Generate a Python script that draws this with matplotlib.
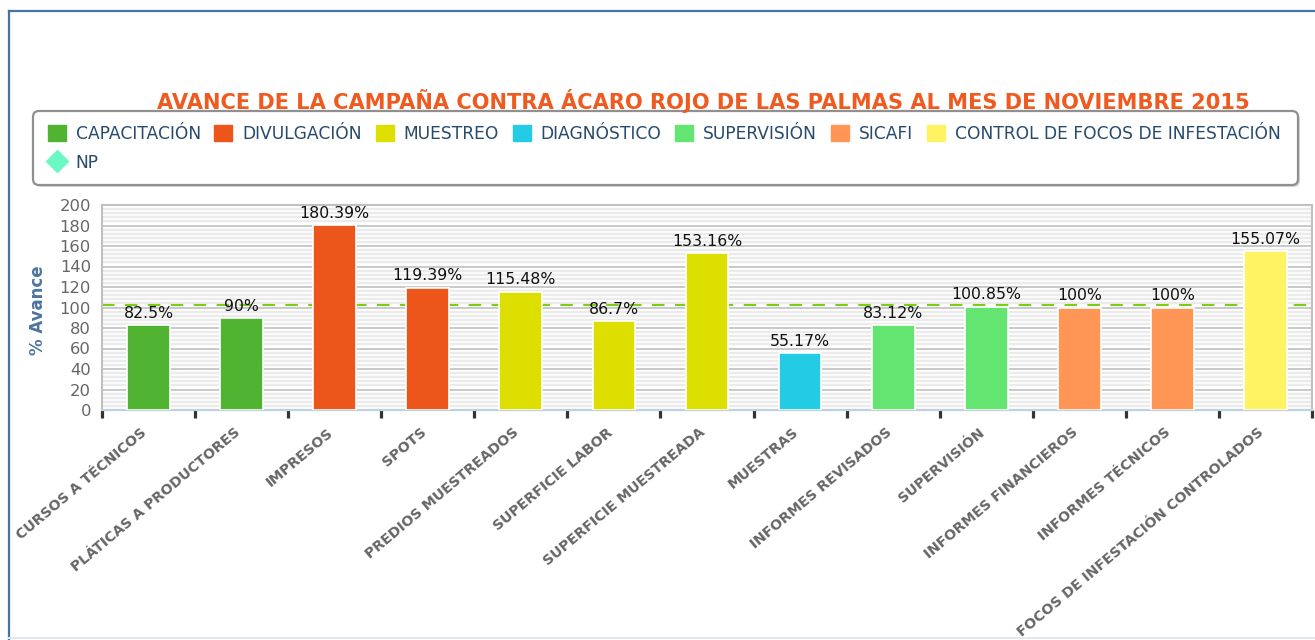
import numpy as np
import matplotlib
matplotlib.use("Agg")
import matplotlib.pyplot as plt
import matplotlib.transforms as mtransforms
from matplotlib.patches import Patch, FancyBboxPatch
from matplotlib.lines import Line2D

# data
categories = ["CURSOS A TÉCNICOS", "PLÁTICAS A PRODUCTORES", "IMPRESOS", "SPOTS",
              "PREDIOS MUESTREADOS", "SUPERFICIE LABOR", "SUPERFICIE MUESTREADA",
              "MUESTRAS", "INFORMES REVISADOS", "SUPERVISIÓN", "INFORMES FINANCIEROS",
              "INFORMES TÉCNICOS", "FOCOS DE INFESTACIÓN CONTROLADOS"]
avance = [82.5, 90, 180.39, 119.39, 115.48, 86.7, 153.16, 55.17, 83.12, 100.85, 100, 100, 155.07]
grupo = [0, 0, 1, 1, 2, 2, 2, 3, 4, 4, 5, 5, 6]
series = ["CAPACITACIÓN", "DIVULGACIÓN", "MUESTREO", "DIAGNÓSTICO", "SUPERVISIÓN",
          "SICAFI", "CONTROL DE FOCOS DE INFESTACIÓN"]
series_colors = ["#50B432", "#ED561B", "#DDDF00", "#24CBE5", "#64E572", "#FF9655", "#FFF263"]
np_value = 102
np_label = "NP"
np_color = "#6AF9C4"

W, H = 1315, 640
fig = plt.figure(figsize=(W / 100, H / 100), dpi=100)

# outer border (blue)
px = mtransforms.IdentityTransform()
fig.add_artist(Line2D([9, W], [H - 11, H - 11], color="#4572A7", lw=1.6, transform=px))
fig.add_artist(Line2D([9, 9], [0, H - 11], color="#4572A7", lw=1.6, transform=px))
fig.add_artist(Line2D([9, W], [2, 2], color="#e4e8ee", lw=1.5, transform=px))

ax = fig.add_axes([102 / W, 1 - 410 / H, (1312 - 102) / W, 205 / H])
x = np.arange(len(categories))

ax.set_xlim(-0.5, len(categories) - 0.5)
ax.set_ylim(0, 200)
ax.set_yticks(np.arange(0, 201, 20))
ax.set_yticks(np.arange(0, 201, 4), minor=True)
ax.grid(axis="y", which="minor", color="#ebebeb", lw=1.7, zorder=0)
ax.grid(axis="y", which="major", color="#c0c0c0", lw=1.2, zorder=1)
ax.set_axisbelow(True)

ax.axhline(np_value, color="#7ACF14", lw=1.5, dashes=(6, 5), zorder=2)

colors = [series_colors[g] for g in grupo]
ax.bar(x, avance, width=0.46, color=colors, edgecolor="white", lw=1.2, zorder=3)

for xi, v in zip(x, avance):
    ax.annotate(f"{v:g}%", (xi, v), xytext=(0, 3), textcoords="offset points",
                ha="center", va="bottom", fontsize=11.3, color="#111111", zorder=4)

# axes styling
for s in ["top", "left", "right"]:
    ax.spines[s].set_color("#c0c0c0")
    ax.spines[s].set_linewidth(1.5)
ax.spines["bottom"].set_color("#c0d0e0")
ax.spines["bottom"].set_linewidth(1.6)

ax.tick_params(axis="y", which="both", length=0, pad=8, labelsize=11.8, labelcolor="#666666")
ax.set_xticks(x)
ax.set_xticklabels(categories, rotation=40, ha="right", va="top", rotation_mode="anchor",
                   fontsize=10.2, fontweight="bold", color="#666666")
ax.tick_params(axis="x", which="major", length=0, pad=11)
shift = mtransforms.ScaledTranslation(-8 / 100, 0, fig.dpi_scale_trans)
for lab in ax.get_xticklabels():
    lab.set_transform(lab.get_transform() + shift)
ax.set_xticks(np.arange(-0.5, len(categories), 1), minor=True)
ax.tick_params(axis="x", which="minor", length=6, width=2.3, color="#333333", direction="out")

fig.text(38 / W, 1 - 310 / H, "% Avance", rotation=90, ha="center", va="center",
         fontsize=12, fontweight="bold", color="#4D759E")

fig.text(703 / W, 1 - 101 / H, "AVANCE DE LA CAMPAÑA CONTRA ÁCARO ROJO DE LAS PALMAS AL MES DE NOVIEMBRE 2015",
         ha="center", va="center", fontsize=15.1, fontweight="bold", color="#EE5A1F")

# legend box with shadow
shadow = FancyBboxPatch((35, H - 187), 1265, 74, boxstyle="round,pad=0,rounding_size=6",
                        fc="#bbbbbb", ec="none", alpha=0.6, transform=px)
box = FancyBboxPatch((33, H - 185), 1265, 74, boxstyle="round,pad=0,rounding_size=6",
                     fc="white", ec="#909090", lw=1.6, transform=px)
fig.add_artist(shadow)
fig.add_artist(box)

handles = [Patch(facecolor=c, edgecolor=c) for c in series_colors]
np_handle = Line2D([], [], marker="D", markersize=11, linestyle="none",
                   markerfacecolor=np_color, markeredgecolor=np_color)
# order so that NP lands under the first column
leg_handles = [handles[0], np_handle] + handles[1:]
leg_labels = [series[0], np_label] + series[1:]
leg = fig.legend(leg_handles, leg_labels, ncol=7, loc="upper left",
                 bbox_to_anchor=(39 / W, 1 - 116 / H), frameon=False, borderpad=0,
                 fontsize=12.3, handlelength=1.06, handleheight=1.06, handletextpad=0.58,
                 columnspacing=0.8, labelspacing=0.66, labelcolor="#274B6D")

fig.savefig("out.png", dpi=100)
